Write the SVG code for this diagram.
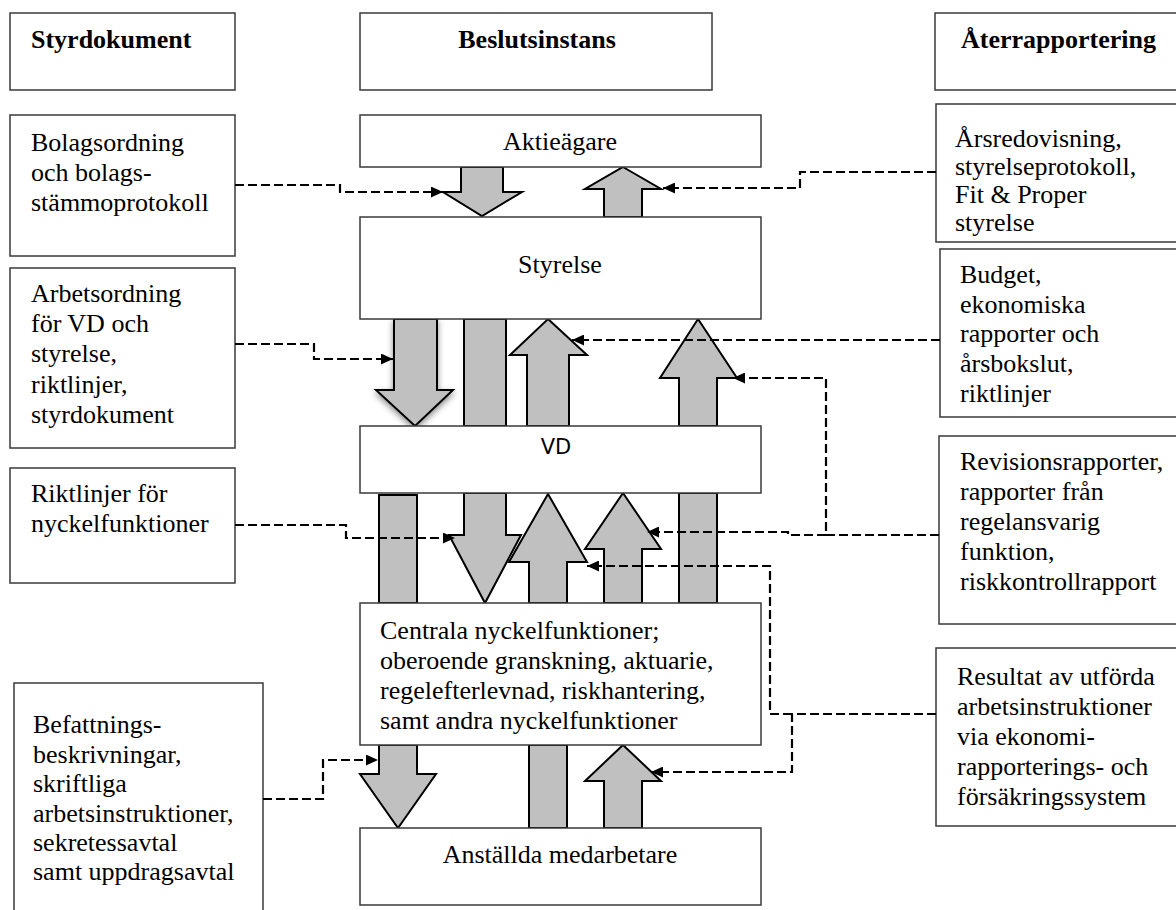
<svg xmlns="http://www.w3.org/2000/svg" width="1176" height="910" viewBox="0 0 1176 910">
<style>
.box{fill:#fff;stroke:#3a3a3a;stroke-width:1.5}
.t{font-family:"Liberation Serif","Times New Roman",serif;font-size:26px;fill:#000}
.b{font-weight:bold}
.sans{font-family:"DejaVu Sans",sans-serif;font-size:21px;fill:#000}
.arr{fill:#c0c0c0;stroke:#000;stroke-width:2;stroke-linejoin:miter}
.dash{fill:none;stroke:#000;stroke-width:2.2;stroke-dasharray:9 4}
</style>
<defs>
<marker id="ah" markerUnits="userSpaceOnUse" markerWidth="13" markerHeight="11" refX="12" refY="5.5" orient="auto">
<path d="M0,0 L12,5.5 L0,11 z" fill="#000"/>
</marker>
<filter id="sh" x="-30%" y="-20%" width="160%" height="140%">
<feDropShadow dx="0" dy="3" stdDeviation="3" flood-color="#000" flood-opacity="0.45"/>
</filter>
<clipPath id="c-arb"><rect x="10" y="268" width="225" height="180"/></clipPath>
</defs>

<g id="arrows">
<polygon class="arr" points="461,167 503,167 503,192 522,192 482,216 443,192 461,192"/>
<polygon class="arr" points="623,167 661,189 642,189 642,217 604,217 604,189 585,189"/>
<polygon class="arr" filter="url(#sh)" points="394,319 437,319 437,390 453,390 415,426 376,390 394,390"/>
<rect class="arr" x="464" y="319" width="42" height="107"/>
<polygon class="arr" points="548,319 587,355 569,355 569,426 527,426 527,355 510,355"/>
<polygon class="arr" points="698,319 737,378 717,378 717,426 679,426 679,378 660,378"/>
<rect class="arr" x="379" y="495" width="38" height="108"/>
<polygon class="arr" points="464,493 506,493 506,535 521,535 485,603 449,535 464,535"/>
<polygon class="arr" points="548,494 587,562 567,562 567,603 529,603 529,562 509,562"/>
<polygon class="arr" points="623,493 661,549 642,549 642,603 604,603 604,549 585,549"/>
<rect class="arr" x="679" y="493" width="38" height="110"/>
<polygon class="arr" points="379,745 417,745 417,774 436,774 398,828 360,774 379,774"/>
<rect class="arr" x="529" y="745" width="38" height="83"/>
<polygon class="arr" points="623,745 661,781 642,781 642,828 604,828 604,781 585,781"/>
</g>

<g id="hdr-styr"><rect class="box" x="10" y="13" width="225" height="77"/><text class="t b" x="31" y="48">Styrdokument</text></g>
<g id="hdr-besl"><rect class="box" x="360" y="13" width="352" height="77"/><text class="t b" x="537" y="48" text-anchor="middle">Beslutsinstans</text></g>
<g id="hdr-ater"><rect class="box" x="935" y="13" width="245" height="77"/><text class="t b" x="961" y="48">Återrapportering</text></g>

<g id="aktieagare"><rect class="box" x="360" y="115" width="401" height="52"/><text class="t" x="560" y="150" text-anchor="middle">Aktieägare</text></g>
<g id="styrelse"><rect class="box" x="360" y="217" width="401" height="102"/><text class="t" x="560" y="273" text-anchor="middle">Styrelse</text></g>
<g id="vd"><rect class="box" x="360" y="426" width="401" height="67"/><text class="sans" x="556" y="454" text-anchor="middle">VD</text></g>
<g id="centrala"><rect class="box" x="360" y="603" width="401" height="142"/>
<text class="t" x="380" y="639">Centrala nyckelfunktioner;</text>
<text class="t" x="380" y="669">oberoende granskning, aktuarie,</text>
<text class="t" x="380" y="699">regelefterlevnad, riskhantering,</text>
<text class="t" x="380" y="729">samt andra nyckelfunktioner</text></g>
<g id="anstallda"><rect class="box" x="360" y="828" width="401" height="77"/><text class="t" x="560" y="863" text-anchor="middle">Anställda medarbetare</text></g>

<g id="bolagsordning"><rect class="box" x="10" y="115" width="225" height="141"/>
<text class="t" x="31" y="151">Bolagsordning</text>
<text class="t" x="31" y="181">och bolags-</text>
<text class="t" x="31" y="211">stämmoprotokoll</text></g>
<g id="arbetsordning"><rect class="box" x="10" y="268" width="225" height="180"/>
<g clip-path="url(#c-arb)">
<text class="t" x="31" y="302">Arbetsordning</text>
<text class="t" x="31" y="332">för VD och</text>
<text class="t" x="31" y="362">styrelse,</text>
<text class="t" x="31" y="393">riktlinjer,</text>
<text class="t" x="31" y="423">styrdokument</text></g></g>
<g id="riktlinjer"><rect class="box" x="10" y="468" width="225" height="115"/>
<text class="t" x="31" y="502">Riktlinjer för</text>
<text class="t" x="31" y="532">nyckelfunktioner</text></g>
<g id="befattning"><rect class="box" x="14" y="683" width="249" height="240"/>
<text class="t" x="33" y="733">Befattnings-</text>
<text class="t" x="33" y="763">beskrivningar,</text>
<text class="t" x="33" y="792">skriftliga</text>
<text class="t" x="33" y="822">arbetsinstruktioner,</text>
<text class="t" x="33" y="851">sekretessavtal</text>
<text class="t" x="33" y="880">samt uppdragsavtal</text></g>

<g id="arsredovisning"><rect class="box" x="936" y="104" width="244" height="138"/>
<text class="t" x="955" y="147">Årsredovisning,</text>
<text class="t" x="955" y="175">styrelseprotokoll,</text>
<text class="t" x="955" y="203">Fit &amp; Proper</text>
<text class="t" x="955" y="231">styrelse</text></g>
<g id="budget"><rect class="box" x="940" y="249" width="240" height="168"/>
<text class="t" x="960" y="283">Budget,</text>
<text class="t" x="960" y="313">ekonomiska</text>
<text class="t" x="960" y="342">rapporter och</text>
<text class="t" x="960" y="372">årsbokslut,</text>
<text class="t" x="960" y="402">riktlinjer</text></g>
<g id="revision"><rect class="box" x="939" y="436" width="241" height="188"/>
<text class="t" x="960" y="470">Revisionsrapporter,</text>
<text class="t" x="960" y="500">rapporter från</text>
<text class="t" x="960" y="530">regelansvarig</text>
<text class="t" x="960" y="560">funktion,</text>
<text class="t" x="960" y="590">riskkontrollrapport</text></g>
<g id="resultat"><rect class="box" x="936" y="648" width="244" height="178"/>
<text class="t" x="957" y="685">Resultat av utförda</text>
<text class="t" x="957" y="715">arbetsinstruktioner</text>
<text class="t" x="957" y="745">via ekonomi-</text>
<text class="t" x="957" y="775">rapporterings- och</text>
<text class="t" x="957" y="805">försäkringssystem</text></g>

<g id="connectors">
<path class="dash" marker-end="url(#ah)" d="M235,185 H340 V192 H443"/>
<path class="dash" marker-end="url(#ah)" d="M936,172 H800 V188 H663"/>
<path class="dash" marker-end="url(#ah)" d="M235,344 H314 V359 H393"/>
<path class="dash" marker-end="url(#ah)" d="M940,340 H572"/>
<path class="dash" marker-end="url(#ah)" d="M939,535 H826 V378 H733"/>
<path class="dash" marker-end="url(#ah)" d="M826,535 H788 V532 H647"/>
<path class="dash" marker-end="url(#ah)" d="M235,525 H346 V538 H455"/>
<path class="dash" marker-end="url(#ah)" d="M936,714 H792 V772 H651"/>
<path class="dash" marker-end="url(#ah)" d="M792,714 H770 V566 H587"/>
<path class="dash" marker-end="url(#ah)" d="M263,799 H323 V760 H378"/>
</g>
</svg>
